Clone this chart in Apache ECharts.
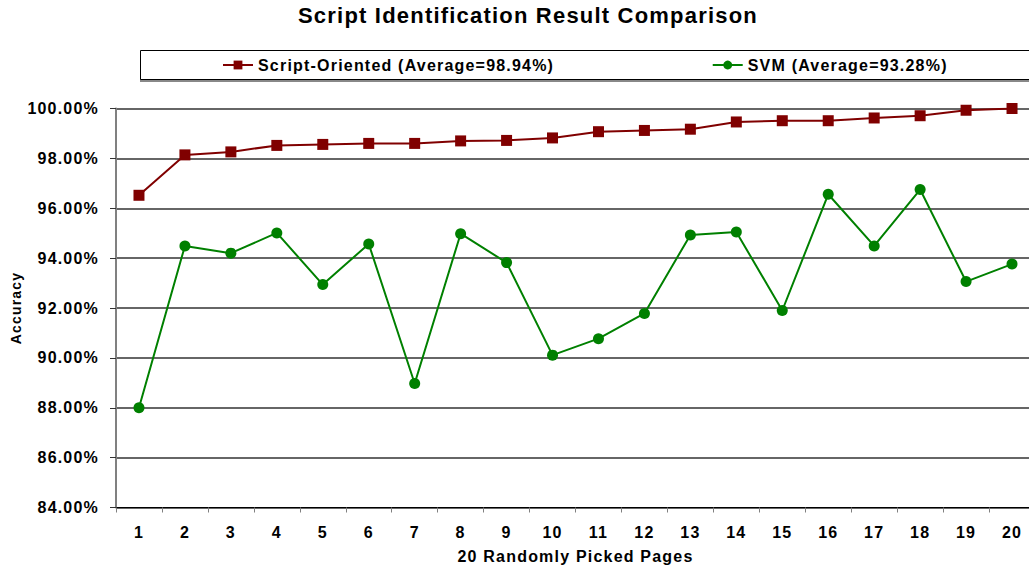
<!DOCTYPE html>
<html>
<head>
<meta charset="utf-8">
<script src="https://cdn.jsdelivr.net/npm/echarts@6/dist/echarts.min.js"></script>
<style>
  html, body { margin: 0; padding: 0; background: #fff; }
  #chart { width: 1029px; height: 572px; }
  /* the original chart text is spaced out a little */
  #chart text { letter-spacing: 1.2px; }
</style>
</head>
<body>
<div id="chart"></div>
<script>
// pages 1..20
const pages = ['1','2','3','4','5','6','7','8','9','10','11','12','13','14','15','16','17','18','19','20']
// accuracy in percent
const scriptOriented = [96.52, 98.14, 98.26, 98.52, 98.56, 98.60, 98.60, 98.70, 98.72, 98.82,
  99.07, 99.12, 99.17, 99.46, 99.51, 99.51, 99.62, 99.71, 99.93, 100.00]
const svm = [88.00, 94.49, 94.20, 95.01, 92.94, 94.57, 88.97, 94.98, 93.82, 90.11,
  90.77, 91.78, 94.93, 95.05, 91.90, 96.56, 94.49, 96.75, 93.06, 93.76]
const seriesNames = ['Script-Oriented (Average=98.94%)', 'SVM (Average=93.28%)']

const font = "'Liberation Sans', Arial, sans-serif"

const chart = echarts.init(document.getElementById('chart'), null, { renderer: 'svg' })

chart.setOption({
  animation: false,
  backgroundColor: '#fff',
  title: {
    text: 'Script Identification Result Comparison',
    left: 293,
    top: -1,
    textStyle: { fontFamily: font, fontSize: 22, fontWeight: 'bold', color: '#000' }
  },
  graphic: [
    // legend frame, runs off the right edge like the original
    { type: 'rect', shape: { x: 141, y: 52, width: 900, height: 29 }, style: { fill: 'none', stroke: '#888', lineWidth: 2 }, z: 1 },
    { type: 'rect', shape: { x: 140.5, y: 50.5, width: 900, height: 29 }, style: { fill: '#fff', stroke: '#000', lineWidth: 1 }, z: 2 }
  ],
  legend: {
    top: 52,
    left: 217,
    itemGap: 196,
    itemWidth: 30,
    itemHeight: 11,
    z: 5,
    textStyle: { fontFamily: font, fontSize: 16, fontWeight: 'bold', color: '#000' },
    data: seriesNames
  },
  grid: {
    left: 116,
    right: -6,
    top: 108.5,
    bottom: 64.5,
    outerBoundsMode: 'none'
  },
  xAxis: {
    type: 'category',
    data: pages,
    boundaryGap: true,
    name: '20 Randomly Picked Pages',
    nameLocation: 'middle',
    nameGap: 41,
    nameTextStyle: { fontFamily: font, fontSize: 16, fontWeight: 'bold', color: '#000' },
    axisLine: { lineStyle: { color: '#000', width: 1 } },
    axisTick: { show: true, alignWithLabel: false, length: 5, lineStyle: { color: '#808080' } },
    axisLabel: { fontFamily: font, fontSize: 16, fontWeight: 'bold', color: '#000', margin: 17, interval: 0 },
    splitLine: { show: false }
  },
  yAxis: {
    type: 'value',
    min: 84,
    max: 100,
    interval: 2,
    name: 'Accuracy',
    nameLocation: 'middle',
    nameGap: 93,
    nameRotate: 90,
    nameTextStyle: { fontFamily: font, fontSize: 14, fontWeight: 'bold', color: '#000' },
    axisLine: { show: true, lineStyle: { color: '#808080', width: 2 } },
    axisTick: { show: true, length: 6, lineStyle: { color: '#333' } },
    axisLabel: {
      fontFamily: font, fontSize: 16, fontWeight: 'bold', color: '#000', margin: 17,
      formatter: v => v.toFixed(2) + '%'
    },
    splitLine: { show: true, lineStyle: { color: '#333', width: 1.5 } }
  },
  series: [
    {
      name: seriesNames[0],
      type: 'line',
      data: scriptOriented,
      symbol: 'rect',
      symbolSize: 11,
      color: '#800000',
      lineStyle: { width: 2, color: '#800000' },
      itemStyle: { color: '#800000' },
      z: 3
    },
    {
      name: seriesNames[1],
      type: 'line',
      data: svm,
      symbol: 'circle',
      symbolSize: 11,
      color: '#008000',
      lineStyle: { width: 2, color: '#008000' },
      itemStyle: { color: '#008000' },
      z: 3
    }
  ]
})
</script>
</body>
</html>
